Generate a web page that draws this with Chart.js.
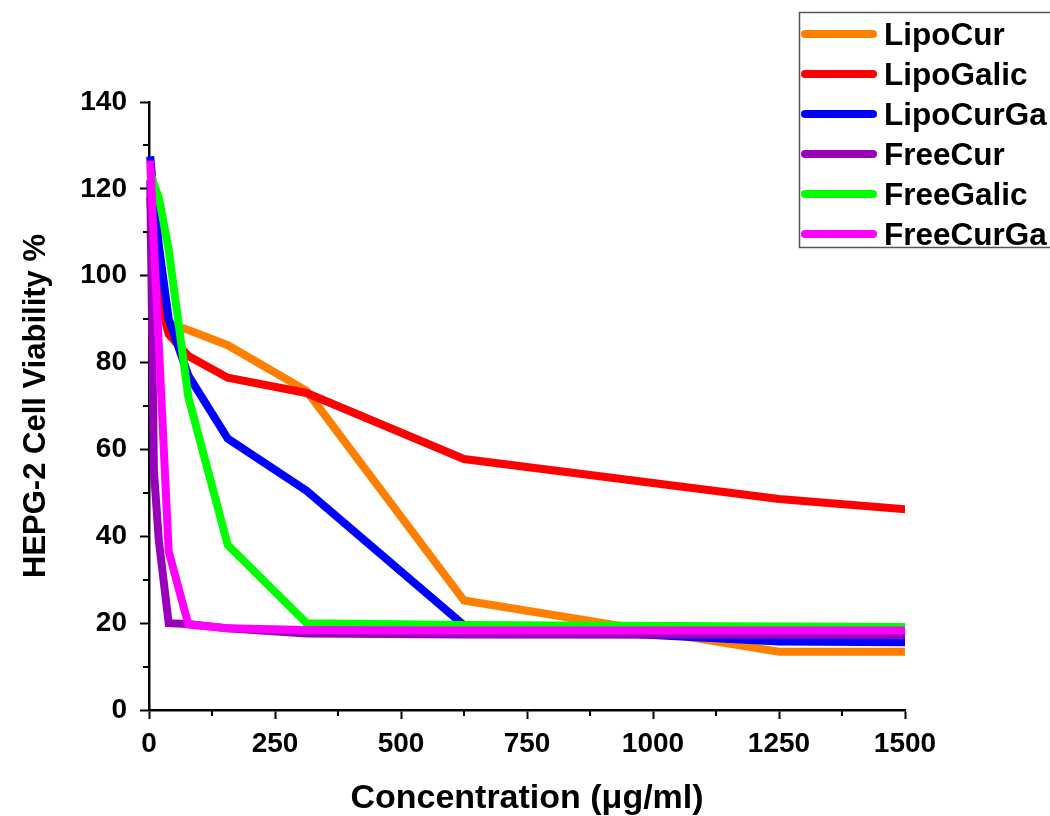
<!DOCTYPE html>
<html>
<head>
<meta charset="utf-8">
<script src="https://cdn.jsdelivr.net/npm/chart.js@4/dist/chart.umd.min.js"></script>
<style>
  html, body { margin: 0; padding: 0; background: #fff; }
</style>
</head>
<body>
<canvas id="myChart" width="1050" height="816"></canvas>
<script>
'use strict';

// concentrations in ug/ml (the last one sits past the 1500 axis end and gets clipped)
let concentrations = [2.44, 9.77, 19.53, 39.06, 78.13, 156.25, 312.5, 625, 1250, 2500];

let seriesNames = ['LipoCur', 'LipoGalic', 'LipoCurGa', 'FreeCur', 'FreeGalic', 'FreeCurGa'];
let seriesColors = ['#ff8000', '#ff0000', '#0000ff', '#9900bb', '#00ff00', '#ff00ff'];

let lipoCur = [110, 100, 94, 89, 87.5, 84, 73.5, 25.2, 13.4, 13.4];
let lipoGalic = [118, 104, 95, 86.5, 81.5, 76.5, 73, 57.8, 48.6, 36.6];
let lipoCurGa = [127.5, 118, 107, 90, 77, 62.5, 50.5, 19.5, 15.8, 14.8];
let freeCur = [122, 55, 39, 20, 19.8, 18.8, 17.6, 17.4, 17.3, 17.2];
let freeGalic = [124, 121, 118, 106, 72, 38, 20, 19.6, 19.2, 18.8];
let freeCurGa = [126.5, 107, 84, 36.5, 19.7, 18.8, 18.4, 18.3, 18.3, 18.2];

let allSeries = [lipoCur, lipoGalic, lipoCurGa, freeCur, freeGalic, freeCurGa];

let xMax = 1500;
let xMajor = 250;
let xMinor = 125;
let yMax = 140;
let yMajor = 20;
let yMinor = 10;

let fontFamily = '"Liberation Sans", Arial, sans-serif';

function makePoints(values){
  let points = [];
  for (let i = 0; i < values.length; i++){
    points.push({x: concentrations[i], y: values[i]});
  }
  return points;
}

let datasets = [];
for (let i = 0; i < seriesNames.length; i++){
  datasets.push({
    label: seriesNames[i],
    data: makePoints(allSeries[i]),
    borderColor: seriesColors[i],
    backgroundColor: seriesColors[i],
    borderWidth: 8,
    pointRadius: 0,
    tension: 0,
    fill: false,
    // later series are drawn on top
    order: seriesNames.length - i,
    clip: {left: 6, top: 6, right: 0, bottom: 6}
  });
}

// shorter minor tick marks, drawn from the scales' own ticks
let minorTicks = {
  id: 'minorTicks',
  afterDraw(chart){
    let ctx = chart.ctx;
    let xs = chart.scales.x;
    let ys = chart.scales.y;
    ctx.save();
    ctx.strokeStyle = '#000';
    ctx.lineWidth = 2;
    xs.ticks.forEach(t => {
      if (t.value % xMajor !== 0){
        let px = Math.round(xs.getPixelForValue(t.value));
        ctx.beginPath();
        ctx.moveTo(px, xs.top);
        ctx.lineTo(px, xs.top + 6);
        ctx.stroke();
      }
    });
    ys.ticks.forEach(t => {
      if (t.value % yMajor !== 0){
        let py = Math.round(ys.getPixelForValue(t.value));
        ctx.beginPath();
        ctx.moveTo(ys.right, py);
        ctx.lineTo(ys.right - 6, py);
        ctx.stroke();
      }
    });
    ctx.restore();
  }
};

// boxed legend at the top right, partly cut by the image edge
let boxLegend = {
  id: 'boxLegend',
  afterDraw(chart){
    let ctx = chart.ctx;
    ctx.save();
    ctx.strokeStyle = '#555';
    ctx.lineWidth = 1.5;
    ctx.strokeRect(799.5, 12.5, 260, 235);
    ctx.font = 'bold 31.5px ' + fontFamily;
    ctx.textBaseline = 'middle';
    ctx.textAlign = 'left';
    chart.data.datasets.forEach((ds, i) => {
      let y = 34 + i * 40;
      ctx.strokeStyle = ds.borderColor;
      ctx.lineWidth = 8;
      ctx.lineCap = 'round';
      ctx.beginPath();
      ctx.moveTo(805, y);
      ctx.lineTo(873, y);
      ctx.stroke();
      ctx.fillStyle = '#000';
      ctx.fillText(ds.label, 884, y + 2);
    });
    ctx.restore();
  }
};

let ctx = document.getElementById('myChart').getContext('2d');
new Chart(ctx, {
  type: 'line',
  data: {datasets: datasets},
  options: {
    responsive: false,
    animation: false,
    layout: {padding: {left: 0, right: 145, top: 102, bottom: 0}},
    plugins: {
      legend: {display: false},
      tooltip: {enabled: false}
    },
    scales: {
      x: {
        type: 'linear',
        min: 0,
        max: xMax,
        afterFit: (scale) => { scale.height = 106; },
        border: {color: '#000', width: 2.5},
        grid: {
          drawOnChartArea: false,
          drawTicks: true,
          tickLength: 9,
          tickWidth: 2,
          tickColor: (c) => (c.tick && c.tick.value % xMajor === 0) ? '#000' : 'rgba(0,0,0,0)'
        },
        ticks: {
          stepSize: xMinor,
          autoSkip: false,
          maxRotation: 0,
          padding: 8,
          color: '#000',
          font: {family: fontFamily, size: 28, weight: 'bold'},
          callback: (v) => (v % xMajor === 0) ? String(v) : ''
        },
        title: {
          display: true,
          text: 'Concentration (\u03bcg/ml)',
          color: '#000',
          font: {family: fontFamily, size: 34, weight: 'bold', lineHeight: 1},
          padding: {top: 0, bottom: 0}
        }
      },
      y: {
        type: 'linear',
        min: 0,
        max: yMax,
        afterFit: (scale) => { scale.width = 149; },
        border: {color: '#000', width: 2.5},
        grid: {
          drawOnChartArea: false,
          drawTicks: true,
          tickLength: 9,
          tickWidth: 2,
          tickColor: (c) => (c.tick && c.tick.value % yMajor === 0) ? '#000' : 'rgba(0,0,0,0)'
        },
        ticks: {
          stepSize: yMinor,
          autoSkip: false,
          padding: 13,
          color: '#000',
          font: {family: fontFamily, size: 28, weight: 'bold'},
          callback: (v) => (v % yMajor === 0) ? String(v) : ''
        },
        title: {
          display: true,
          text: 'HEPG-2 Cell Viability %',
          color: '#000',
          font: {family: fontFamily, size: 31, weight: 'bold'},
          padding: {top: 18, bottom: 0}
        }
      }
    }
  },
  plugins: [minorTicks, boxLegend]
});
</script>
</body>
</html>
